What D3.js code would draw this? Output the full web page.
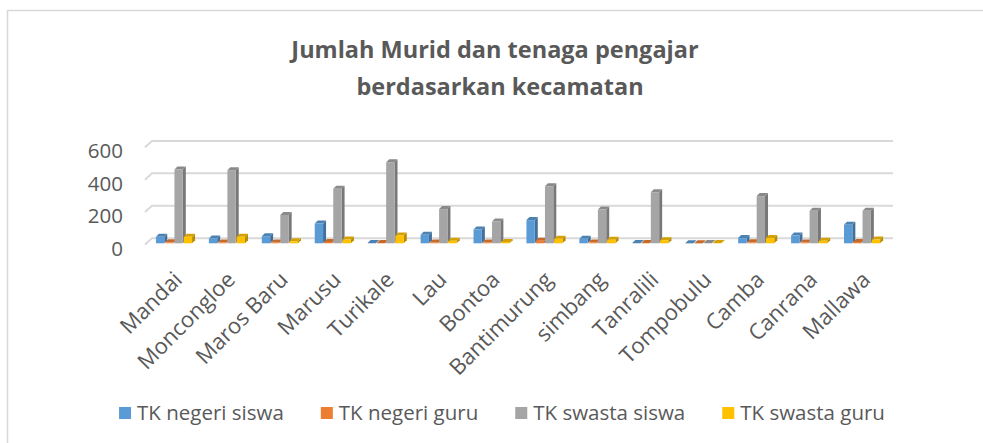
<!DOCTYPE html>
<html>
<head>
<meta charset="utf-8">
<script src="https://cdn.jsdelivr.net/npm/d3@7"></script>
<style>
  html, body { margin: 0; padding: 0; background: #ffffff; }
  svg { display: block; }
  text { font-family: "Open Sans", "Noto Sans", sans-serif; fill: #595959; }
</style>
</head>
<body>
<svg id="chart" width="983" height="443"></svg>
<script>
// Kecamatan (districts)
const categories = ["Mandai", "Moncongloe", "Maros Baru", "Marusu", "Turikale", "Lau", "Bontoa",
  "Bantimurung", "simbang", "Tanralili", "Tompobulu", "Camba", "Canrana", "Mallawa"];

const seriesNames = ["TK negeri siswa", "TK negeri guru", "TK swasta siswa", "TK swasta guru"];
const seriesColors = ["#5b9bd5", "#ed7d31", "#a5a5a5", "#ffc000"];

const tkNegeriSiswa = [40, 30, 44, 122, 2, 52, 85, 143, 28, 2, 1, 32, 48, 114];
const tkNegeriGuru  = [6, 5, 5, 8, 2, 5, 5, 16, 5, 2, 1, 6, 5, 8];
const tkSwastaSiswa = [455, 451, 175, 336, 500, 211, 134, 352, 208, 315, 2, 291, 200, 200];
const tkSwastaGuru  = [40, 40, 12, 23, 48, 15, 8, 28, 22, 19, 2, 32, 15, 23];

const yTicks = [0, 200, 400, 600];
const titleLines = ["Jumlah Murid dan tenaga pengajar", "berdasarkan kecamatan"];

const seriesValues = [tkNegeriSiswa, tkNegeriGuru, tkSwastaSiswa, tkSwastaGuru];

const svg = d3.select("#chart");

// outer chart frame
svg.append("rect")
  .attr("x", 7.5).attr("y", 10.5)
  .attr("width", 1000).attr("height", 500)
  .attr("fill", "none").attr("stroke", "#d9d9d9").attr("stroke-width", 1.5);

// title
svg.append("g").selectAll("text")
  .data(titleLines)
  .join("text")
  .attr("x", (d, i) => i === 0 ? 495 : 500)
  .attr("y", (d, i) => 57.5 + i * 37.5)
  .attr("text-anchor", "middle")
  .style("font-size", "23.5px")
  .style("font-weight", "700")
  .text(d => d);

// 3D geometry: floor depth offset and bar depth
const floorDX = 7, floorDY = 6.3;
const barDX = 3, barDY = 3;

const y = d3.scaleLinear().domain([0, 600]).range([244.5, 147.2]);
const x0 = d3.scaleBand().domain(categories).range([148, 889]).paddingInner(0.3).paddingOuter(0.15);
const x1 = d3.scaleBand().domain(seriesNames).range([0, x0.bandwidth()]);
const barW = x1.bandwidth() * 0.9;

// gridlines on back wall with slanted floor edge
const grid = svg.append("g");
yTicks.forEach(t => {
  const yf = y(t);
  grid.append("path")
    .attr("d", `M145,${yf} L${145 + floorDX},${yf - floorDY} L893,${yf - floorDY}`)
    .attr("fill", "none").attr("stroke", "#d9d9d9").attr("stroke-width", 2);
});

// y axis labels
svg.append("g").selectAll("text")
  .data(yTicks)
  .join("text")
  .attr("x", 123)
  .attr("y", d => y(d) + 3)
  .attr("text-anchor", "end")
  .attr("dominant-baseline", "central")
  .style("font-size", "20.5px")
  .text(d => d);

// 3D columns
const bars = svg.append("g");
const baseShift = 1.2;
categories.forEach((cat, ci) => {
  seriesNames.forEach((s, si) => {
    const v = seriesValues[si][ci];
    const xl = x0(cat) + x1(s);
    const xr = xl + barW;
    const yb = y(0) - baseShift;
    const yt = y(v) - baseShift;
    const c = d3.color(seriesColors[si]);
    const g = bars.append("g");
    // side face
    g.append("path")
      .attr("d", `M${xr},${yb} L${xr + barDX},${yb - barDY} L${xr + barDX},${yt - barDY} L${xr},${yt} Z`)
      .attr("fill", c.darker(0.9));
    // top face
    g.append("path")
      .attr("d", `M${xl},${yt} L${xl + barDX},${yt - barDY} L${xr + barDX},${yt - barDY} L${xr},${yt} Z`)
      .attr("fill", c.darker(0.5));
    // front face
    g.append("rect")
      .attr("x", xl).attr("y", yt)
      .attr("width", barW).attr("height", Math.max(0, yb - yt))
      .attr("fill", c);
  });
});

// category labels, rotated
svg.append("g").selectAll("text")
  .data(categories)
  .join("text")
  .attr("transform", d => `translate(${x0(d) + x0.bandwidth() / 2 + 9},281) rotate(-45)`)
  .attr("text-anchor", "end")
  .style("font-size", "22px")
  .text(d => d);

// legend, centred below the plot
const legend = svg.append("g");
const items = legend.selectAll("g")
  .data(seriesNames)
  .join("g");
items.append("rect")
  .attr("width", 12).attr("height", 12)
  .attr("y", 407)
  .attr("fill", (d, i) => seriesColors[i]);
items.append("text")
  .attr("x", 18)
  .attr("y", 420)
  .style("font-size", "20.5px")
  .text(d => d);
const widths = [];
items.each(function () { widths.push(d3.select(this).select("text").node().getComputedTextLength() + 18); });
const gap = 37;
const total = d3.sum(widths) + gap * (widths.length - 1);
let cx = 502 - total / 2;
items.each(function (d, i) {
  d3.select(this).attr("transform", `translate(${cx},0)`);
  cx += widths[i] + gap;
});
</script>
</body>
</html>
